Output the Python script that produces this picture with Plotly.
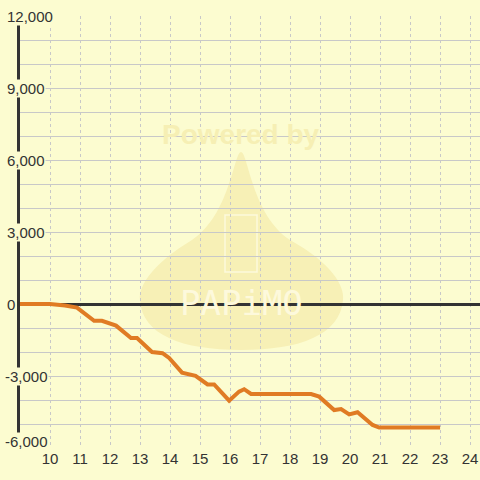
import plotly.graph_objects as go

# hour of day vs cumulative value
hours = [9.0, 10.0, 10.5, 10.9, 11.47, 11.73, 12.2, 12.7, 12.9, 13.4, 13.75, 13.97,
         14.4, 14.85, 15.25, 15.47, 15.97, 16.3, 16.47, 16.7, 18.7, 18.97, 19.47,
         19.7, 19.97, 20.25, 20.75, 20.97, 23.0]
values = [0, 0, -60, -150, -700, -700, -900, -1420, -1420, -2000, -2050, -2250,
          -2860, -2990, -3350, -3350, -4030, -3650, -3550, -3750, -3750, -3860, -4420,
          -4380, -4600, -4510, -5040, -5150, -5150]

x_ticks = list(range(10, 25))
y_grid = list(range(-6000, 12001, 1000))
y_labels = [12000, 9000, 6000, 3000, 0, -3000, -6000]

BG = "#fcfcd0"
INK = "#333333"
GRID = "#c8c8c8"

# plot area in pixels: x 20..480, y 16..448
def px(x):
    return (x - 20) / 460

def py(y):
    return (448 - y) / 432

fig = go.Figure()
fig.add_trace(go.Scatter(
    x=hours, y=values, mode="lines",
    line=dict(color="#e07b24", width=4), hoverinfo="skip"
))

# faint watermark
drop = [
    ("M", 241, 152), ("C", 248, 152, 252, 215, 290, 240),
    ("C", 330, 262, 345, 285, 343, 300), ("C", 340, 335, 300, 350, 241, 350),
    ("C", 182, 350, 142, 335, 140, 300), ("C", 138, 285, 155, 262, 192, 240),
    ("C", 230, 215, 234, 152, 241, 152),
]
path = ""
for seg in drop:
    cmd, pts = seg[0], seg[1:]
    coords = []
    for i in range(0, len(pts), 2):
        coords.append(f"{px(pts[i]):.4f},{py(pts[i + 1]):.4f}")
    path += cmd + " " + " ".join(coords) + " "
path += "Z"
fig.add_shape(type="path", path=path, xref="paper", yref="paper",
              fillcolor="#f7f0b6", line=dict(width=0), layer="below")
fig.add_shape(type="rect", xref="paper", yref="paper",
              x0=px(225), x1=px(257), y0=py(272), y1=py(215),
              line=dict(color="#fdf9dc", width=1.5), layer="below")
fig.add_annotation(text="<b>Powered by</b>", xref="paper", yref="paper",
                   x=px(241), y=py(135), yanchor="middle", showarrow=False,
                   font=dict(size=28, color="#f6efb4", family="Liberation Sans"))
fig.add_annotation(text="PAPiMO", xref="paper", yref="paper",
                   x=px(241), y=py(303), yanchor="middle", showarrow=False,
                   font=dict(size=34, color="#fdf9dc", family="DejaVu Sans Mono"))

# y labels with background boxes over the axis line
for v in y_labels:
    fig.add_annotation(text=f"{v:,}", xref="paper", yref="y", x=0, y=v,
                       xanchor="left", yanchor="middle",
                       xshift=-16 if v < 0 else -14,
                       yshift=7 if v == y_labels[-1] else 0,
                       showarrow=False, bgcolor=BG, borderpad=0,
                       font=dict(size=15, color=INK, family="Liberation Sans"))

fig.update_layout(
    width=480, height=480,
    margin=dict(l=20, r=0, t=16, b=32),
    paper_bgcolor=BG, plot_bgcolor=BG,
    showlegend=False,
    font=dict(family="Liberation Sans", size=15, color=INK),
    xaxis=dict(range=[9, 24.33], tickvals=x_ticks, showgrid=True,
               gridcolor=GRID, griddash="3px,3px", gridwidth=1,
               zeroline=False, showline=False, ticks="", automargin=False,
               tickfont=dict(size=15, color=INK)),
    yaxis=dict(range=[-6000, 12000], tickvals=y_grid, showticklabels=False,
               showgrid=True, gridcolor=GRID, gridwidth=1, automargin=False,
               zeroline=True, zerolinecolor=INK, zerolinewidth=3,
               showline=True, linecolor=INK, linewidth=3, ticks=""),
)

fig.write_html("out.html", config={"displayModeBar": False},
               post_script="document.body.style.margin='0';")
